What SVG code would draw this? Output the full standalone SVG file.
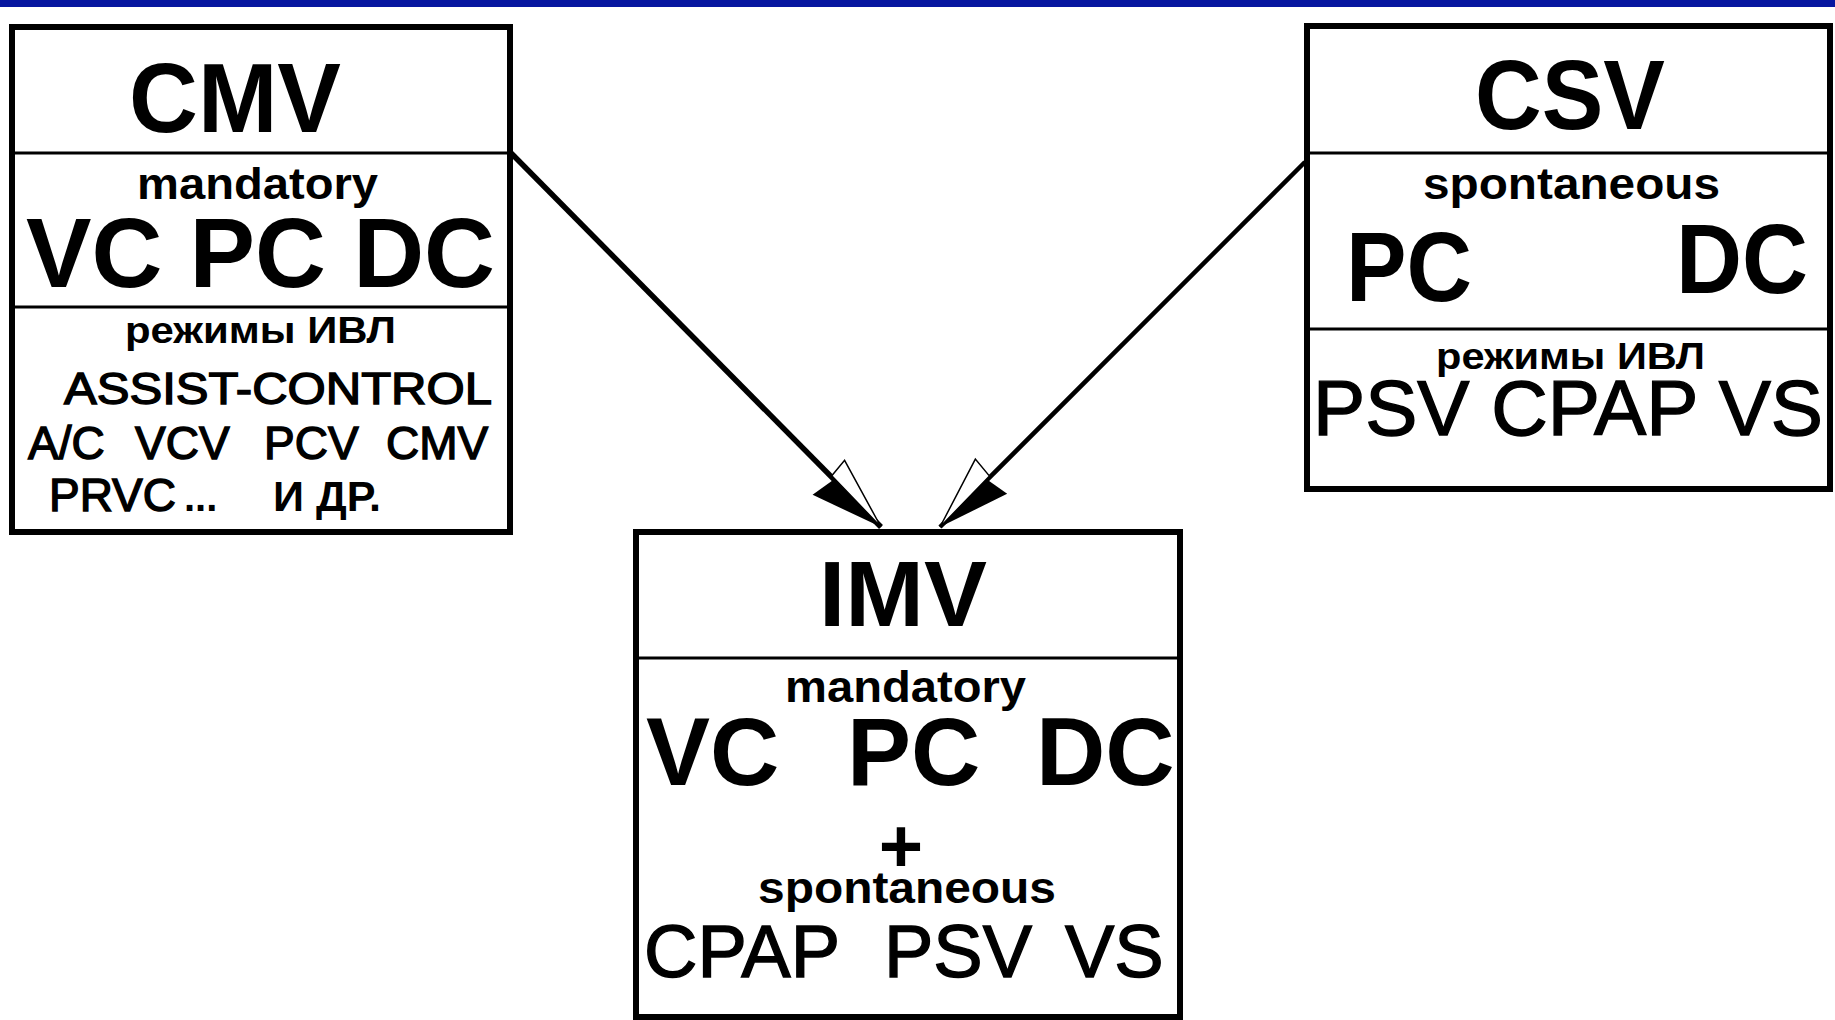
<svg xmlns="http://www.w3.org/2000/svg" width="1835" height="1020" viewBox="0 0 1835 1020">
<style>
.box{fill:#fff;stroke:#000;stroke-width:6}
.div{stroke:#000;stroke-width:3}
text{font-family:"Liberation Sans",Arial,sans-serif;fill:#000}
.b{font-weight:bold}
.m{stroke:#000;stroke-width:1.4}
.conn{stroke:#000;fill:none}
</style>
<defs>
<marker id="headL" markerUnits="userSpaceOnUse" orient="auto" overflow="visible" markerWidth="1" markerHeight="1" refX="0" refY="0">
<path d="M0,0 L-71,-1 L-73,-21 Z" fill="#fff" stroke="#000" stroke-width="1.5"/>
<path d="M0,0 L-67,1 L-71,26 Z" fill="#000"/>
</marker>
<marker id="headR" markerUnits="userSpaceOnUse" orient="auto" overflow="visible" markerWidth="1" markerHeight="1" refX="0" refY="0">
<path d="M0,0 L-71,1 L-73,23 Z" fill="#fff" stroke="#000" stroke-width="1.5"/>
<path d="M0,0 L-67,-1 L-71,-24 Z" fill="#000"/>
</marker>
</defs>
<rect x="0" y="0" width="1835" height="1020" fill="#fff"/>
<rect x="0" y="0" width="1835" height="7" fill="#0716a0"/>

<g id="connectors">
<line class="conn" x1="511" y1="153" x2="881" y2="527" stroke-width="5.5" marker-end="url(#headL)"/>
<line class="conn" x1="1305" y1="162" x2="940" y2="527" stroke-width="4.5" marker-end="url(#headR)"/>
</g>

<g id="node-cmv">
<rect class="box" x="12" y="27" width="498" height="505"/>
<line class="div" x1="12" y1="153" x2="510" y2="153"/>
<line class="div" x1="12" y1="307" x2="510" y2="307"/>
<text class="b" x="129" y="132" font-size="99" textLength="212" lengthAdjust="spacingAndGlyphs">CMV</text>
<text class="b" x="137" y="199" font-size="44" textLength="241" lengthAdjust="spacingAndGlyphs">mandatory</text>
<text class="b" x="26" y="287" font-size="98" textLength="469" lengthAdjust="spacingAndGlyphs">VC PC DC</text>
<text class="b" x="125" y="343" font-size="37" textLength="271" lengthAdjust="spacingAndGlyphs">режимы ИВЛ</text>
<text class="m" x="64" y="404" font-size="44" textLength="428" lengthAdjust="spacingAndGlyphs">ASSIST-CONTROL</text>
<text class="m" y="459" font-size="46"><tspan x="28">A/C</tspan><tspan x="135">VCV</tspan><tspan x="264">PCV</tspan><tspan x="386">CMV</tspan></text>
<text class="m" x="49" y="511" font-size="46">PRVC</text>
<text class="b" x="184" y="511" font-size="40">...</text>
<text class="b" x="273" y="511" font-size="42" textLength="108" lengthAdjust="spacingAndGlyphs">И ДР.</text>
</g>

<g id="node-csv">
<rect class="box" x="1307" y="26" width="523" height="463"/>
<line class="div" x1="1307" y1="153" x2="1830" y2="153"/>
<line class="div" x1="1307" y1="329" x2="1830" y2="329"/>
<text class="b" x="1475" y="129" font-size="98" textLength="190" lengthAdjust="spacingAndGlyphs">CSV</text>
<text class="b" x="1423" y="199" font-size="44" textLength="297" lengthAdjust="spacingAndGlyphs">spontaneous</text>
<text class="b" x="1346" y="301" font-size="98" textLength="126" lengthAdjust="spacingAndGlyphs">PC</text>
<text class="b" x="1676" y="293" font-size="98" textLength="132" lengthAdjust="spacingAndGlyphs">DC</text>
<text class="b" x="1436" y="369" font-size="37" textLength="269" lengthAdjust="spacingAndGlyphs">режимы ИВЛ</text>
<text class="m" x="1313" y="435" font-size="77" textLength="510" lengthAdjust="spacingAndGlyphs">PSV CPAP VS</text>
</g>

<g id="node-imv">
<rect class="box" x="636" y="532" width="544" height="485"/>
<line class="div" x1="636" y1="658" x2="1180" y2="658"/>
<text class="b" x="819" y="626" font-size="93" textLength="168" lengthAdjust="spacingAndGlyphs">IMV</text>
<text class="b" x="785" y="702" font-size="44" textLength="241" lengthAdjust="spacingAndGlyphs">mandatory</text>
<text class="b" y="785" font-size="96"><tspan x="646">VC</tspan><tspan x="847">PC</tspan><tspan x="1036">DC</tspan></text>
<text class="b" x="901" y="872" font-size="76" text-anchor="middle">+</text>
<text class="b" x="758" y="903" font-size="44" textLength="298" lengthAdjust="spacingAndGlyphs">spontaneous</text>
<text class="m" y="977" font-size="74"><tspan x="644">CPAP</tspan><tspan x="884">PSV</tspan><tspan x="1065">VS</tspan></text>
</g>
</svg>
